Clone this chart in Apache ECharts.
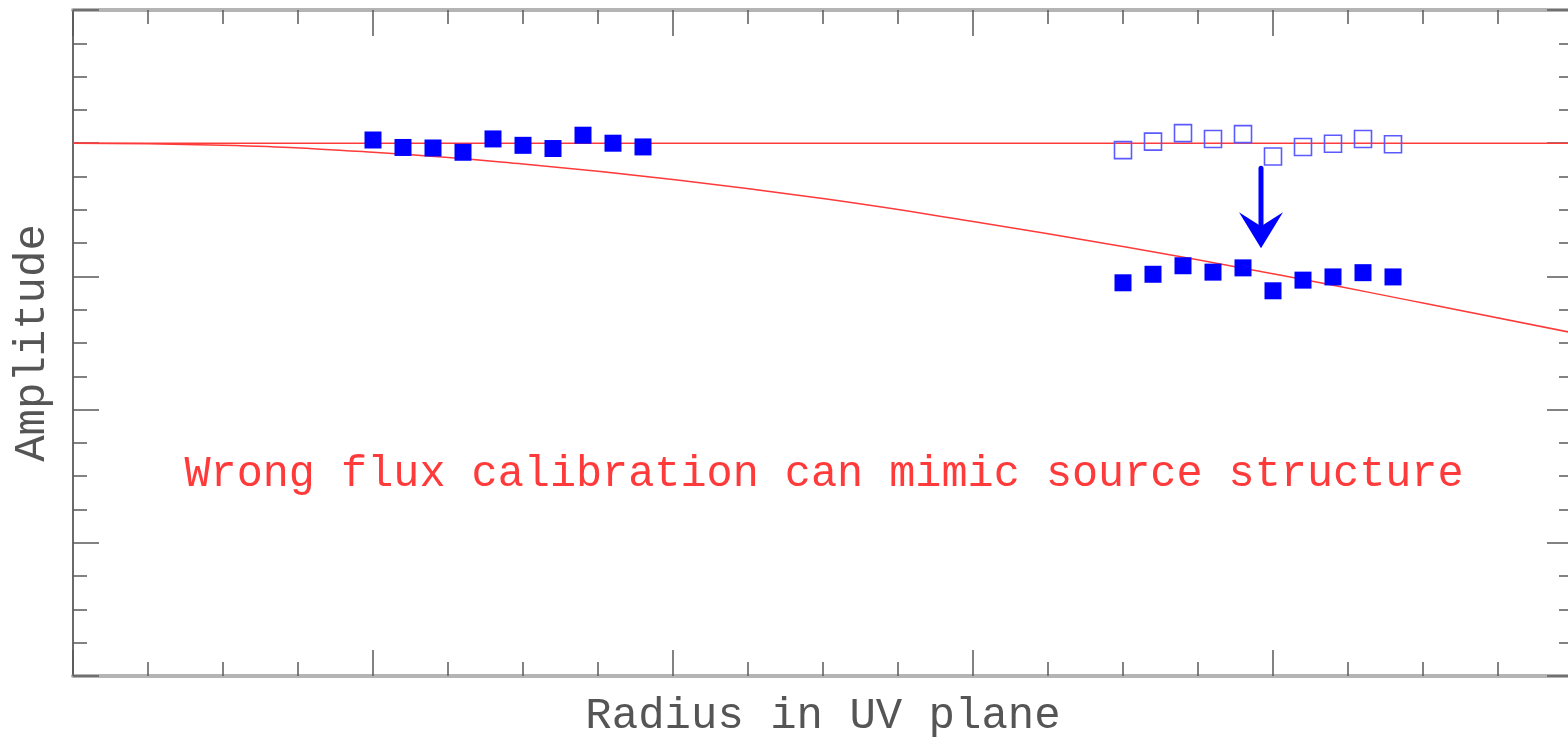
<!DOCTYPE html>
<html>
<head>
<meta charset="utf-8">
<title>Amplitude vs UV radius</title>
<script src="https://cdn.jsdelivr.net/npm/echarts@6/dist/echarts.min.js"></script>
<style>
  html, body { margin: 0; padding: 0; background: #ffffff; }
  #chart { width: 1568px; height: 741px; }
</style>
</head>
<body>
<div id="chart"></div>
<script>
// Short-baseline visibilities (filled squares)
const shortRadius = [1.0, 1.1, 1.2, 1.3, 1.4, 1.5, 1.6, 1.7, 1.8, 1.9];
const shortAmp    = [1.006, 0.992, 0.991, 0.983, 1.008, 0.996, 0.990, 1.015, 1.000, 0.993];

// Long-baseline visibilities: true amplitudes (open) and mis-calibrated ones (filled)
const longRadius  = [3.5, 3.6, 3.7, 3.8, 3.9, 4.0, 4.1, 4.2, 4.3, 4.4];
const longTrue    = [0.987, 1.003, 1.019, 1.008, 1.017, 0.975, 0.993, 0.999, 1.008, 0.998];
const longScaled  = [0.738, 0.754, 0.770, 0.758, 0.766, 0.723, 0.743, 0.749, 0.757, 0.749];

// Point-source model (flat) and the apparent resolved-source curve
const flatRadius  = [0, 5];
const flatAmp     = [1.0, 1.0];
const curveRadius = [0, 0.5, 1.0, 1.5, 2.0, 2.5, 3.0, 3.5, 4.0, 4.5, 5.0];
const curveAmp    = [1.0, 0.996, 0.983, 0.961, 0.932, 0.896, 0.853, 0.806, 0.755, 0.700, 0.644];

// Arrow from the true to the scaled long-baseline points
const arrowFrom = [3.96, 0.953];
const arrowTo   = [3.96, 0.803];

const caption = 'Wrong flux calibration can mimic source structure';

const zip = (xs, ys) => xs.map((x, i) => [x, ys[i]]);

const FONT = '"Liberation Mono", "DejaVu Sans Mono", monospace';
const RED = '#ff3a3a';
const BLUE = '#0000ff';

const tickStyle = { color: '#5a5a5a', width: 1.5 };

function xAxisDef(pos, withName) {
  return {
    type: 'value', position: pos, min: 0, max: 5, interval: 1,
    name: withName ? 'Radius in UV plane' : '',
    nameLocation: 'middle', nameGap: 18,
    nameTextStyle: { fontFamily: FONT, fontSize: 44, color: '#555555' },
    axisLine: { show: true, onZero: false, lineStyle: { color: '#b4b4b4', width: 4 } },
    axisTick: { show: true, inside: true, length: 26, lineStyle: tickStyle },
    minorTick: { show: true, splitNumber: 4, length: 14, lineStyle: tickStyle },
    axisLabel: { show: false },
    splitLine: { show: false }, minorSplitLine: { show: false }
  };
}
function yAxisDef(pos, withName) {
  return {
    type: 'value', position: pos, min: 0, max: 1.25, interval: 0.25,
    name: withName ? 'Amplitude' : '',
    nameLocation: 'middle', nameGap: 19, nameRotate: 90,
    nameTextStyle: { fontFamily: FONT, fontSize: 44, color: '#555555' },
    axisLine: { show: true, onZero: false,
      lineStyle: { color: pos === 'left' ? '#6a6a6a' : '#b4b4b4', width: pos === 'left' ? 2 : 4 } },
    axisTick: { show: true, inside: true, length: 26, lineStyle: tickStyle },
    minorTick: { show: true, splitNumber: 4, length: 14, lineStyle: tickStyle },
    axisLabel: { show: false },
    splitLine: { show: false }, minorSplitLine: { show: false }
  };
}

const chart = echarts.init(document.getElementById('chart'), null, { renderer: 'canvas' });

chart.setOption({
  backgroundColor: '#ffffff',
  animation: false,
  grid: { left: 73, top: 10, width: 1500, height: 666, containLabel: false, outerBoundsMode: 'none' },
  xAxis: [xAxisDef('bottom', true), xAxisDef('top', false)],
  yAxis: [yAxisDef('left', true), yAxisDef('right', false)],
  graphic: [{
    type: 'text', x: 824, y: 474, z: 10,
    style: { text: caption, fill: RED, font: '43.5px ' + FONT, textAlign: 'center', textVerticalAlign: 'middle' }
  }],
  series: [
    {
      type: 'line', data: zip(flatRadius, flatAmp), symbol: 'none', z: 1,
      lineStyle: { color: RED, width: 1.5 }
    },
    {
      type: 'line', data: zip(curveRadius, curveAmp), symbol: 'none', smooth: true, z: 1,
      lineStyle: { color: RED, width: 1.5 }
    },
    {
      type: 'scatter', data: zip(shortRadius, shortAmp), symbol: 'rect', symbolSize: 17, z: 3,
      itemStyle: { color: BLUE, opacity: 1 }
    },
    {
      type: 'scatter', data: zip(longRadius, longScaled), symbol: 'rect', symbolSize: 17, z: 3,
      itemStyle: { color: BLUE, opacity: 1 }
    },
    {
      type: 'scatter', data: zip(longRadius, longTrue), symbol: 'rect', symbolSize: 17, z: 3,
      itemStyle: { color: 'rgba(0,0,0,0)', borderColor: '#5a5aff', borderWidth: 1.6, opacity: 1 }
    },
    {
      type: 'custom', z: 4,
      data: [[arrowFrom[0], arrowFrom[1], arrowTo[0], arrowTo[1]]],
      renderItem: function (params, api) {
        const p0 = api.coord([api.value(0), api.value(1)]);
        const p1 = api.coord([api.value(2), api.value(3)]);
        const headLen = 36, headHalf = 22, notch = 22;
        return {
          type: 'group',
          children: [
            {
              type: 'line',
              shape: { x1: p0[0], y1: p0[1], x2: p1[0], y2: p1[1] - notch },
              style: { stroke: BLUE, lineWidth: 5, lineCap: 'round' }
            },
            {
              type: 'polygon',
              shape: { points: [
                [p1[0], p1[1]],
                [p1[0] - headHalf, p1[1] - headLen],
                [p1[0], p1[1] - notch],
                [p1[0] + headHalf, p1[1] - headLen]
              ] },
              style: { fill: BLUE }
            }
          ]
        };
      }
    }
  ]
});
</script>
</body>
</html>
